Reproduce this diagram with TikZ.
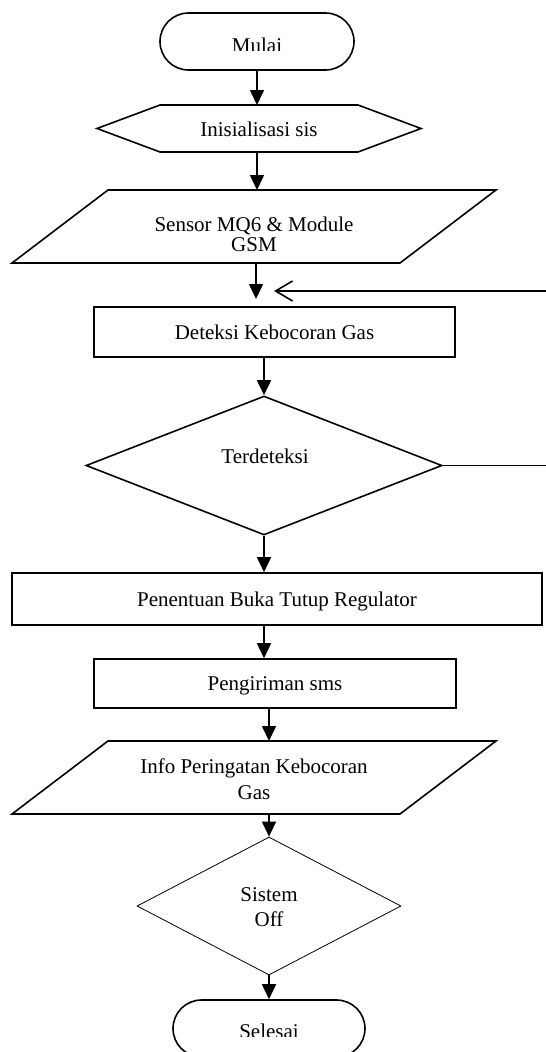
\documentclass[tikz,border=0pt]{standalone}
\usepackage{fontspec}
\setmainfont{Liberation Serif}
\usetikzlibrary{arrows.meta,shapes.misc,shapes.geometric}
\newcommand\twoln[3]{\vtop{\baselineskip=#1\lineskiplimit=-100pt\halign{\hfil##\hfil\cr#2\cr#3\cr}}}
\begin{document}
\begin{tikzpicture}[x=1pt,y=-1pt,
  lbl/.style={font=\fontsize{21}{25}\selectfont, inner sep=0pt},
  box/.style={draw, line width=1.6pt, inner sep=0pt, font=\fontsize{21}{25}\selectfont, text height=14pt, text depth=0pt},
  term/.style={draw, line width=1.6pt, rounded rectangle, minimum width=194pt, minimum height=57pt, inner sep=0pt},
  dec/.style={draw, diamond, inner sep=0pt, line width=1.6pt},
  shp/.style={line width=1.6pt, line join=miter},
  flow/.style={line width=1.6pt, -{Triangle[length=15pt,width=14pt]}},
  plain/.style={line width=1.6pt},
]
\useasboundingbox (0,0) rectangle (546,1052);
\clip (0,0) rectangle (546,1052);

% Mulai
\node[term] (mulai) at (257,41.5) {};
\begin{scope}
\clip (150,13) rectangle (360,50);
\node[lbl, anchor=base] (mulaiT) at (257,52) {Mulai};
\end{scope}

% Inisialisasi (hexagon)
\draw[shp] (97,128.5) -- (160,105) -- (358,105) -- (421,128.5) -- (358,152) -- (160,152) -- cycle;
\coordinate (hexN) at (257,105);
\coordinate (hexS) at (257,152);
\node[lbl, anchor=base] (init) at (259,136) {Inisialisasi sis};

% Sensor (parallelogram)
\draw[shp] (108,190) -- (496,190) -- (400,263) -- (12,263) -- cycle;
\coordinate (senN) at (257,190);
\coordinate (senS) at (256,263);
\node[lbl, anchor=base] (sensor) at (254,231) {\twoln{20.5pt}{Sensor MQ6 \& Module}{GSM}};

% junction before Deteksi
\coordinate (join) at (256,299);
\coordinate (loopIn) at (274,291);
\coordinate (edge1) at (546,291);

% Deteksi
\node[box, minimum width=361pt, minimum height=50pt] (deteksi) at (274.5,332) {Deteksi Kebocoran Gas};

% Terdeteksi
\node[dec, minimum width=356pt, minimum height=139pt] (terdeteksi) at (264,465.5) {};
\node[lbl, anchor=base] (terdT) at (265,463) {Terdeteksi};
\coordinate (edge2) at (546,465.5);

% Penentuan
\node[box, minimum width=530pt, minimum height=52pt] (penentuan) at (277,599) {Penentuan Buka Tutup Regulator};

% Pengiriman
\node[box, minimum width=362pt, minimum height=49pt] (kirim) at (275,683.5) {Pengiriman sms};

% Info (parallelogram)
\draw[shp] (108,741) -- (496,741) -- (400,814) -- (12,814) -- cycle;
\coordinate (infoN) at (269,741);
\coordinate (infoS) at (269,814);
\node[lbl, anchor=base] (info) at (254,773.5) {\twoln{26pt}{Info Peringatan Kebocoran}{Gas}};

% Sistem Off
\node[dec, line width=0.8pt, minimum width=264pt, minimum height=138pt] (off) at (269,906) {};
\node[lbl, anchor=base] (offT) at (269,901.7) {\twoln{25pt}{Sistem}{Off}};

% Selesai
\node[term, minimum width=192pt] (selesai) at (269,1028.5) {};
\begin{scope}
\clip (160,1000) rectangle (380,1036);
\node[lbl, anchor=base] (selesaiT) at (269,1038) {Selesai};
\end{scope}

% connectors
\draw[flow] (mulai.south) -- (hexN);
\draw[flow] (hexS) -- (senN);
\draw[flow] (senS) -- (join);
\draw[plain, -{Straight Barb[length=17pt,width=20pt]}] (edge1) -- (loopIn);
\draw[flow] (terdeteksi.north |- deteksi.south) -- (terdeteksi.north);
\draw[plain] (terdeteksi.east) -- (edge2);
\draw[flow] (terdeteksi.south) -- (terdeteksi.south |- penentuan.north);
\draw[flow] (terdeteksi.south |- penentuan.south) -- (terdeteksi.south |- kirim.north);
\draw[flow] (infoN |- kirim.south) -- (infoN);
\draw[flow] (infoS) -- (off.north);
\draw[flow] (off.south) -- (selesai.north);
\end{tikzpicture}
\end{document}
